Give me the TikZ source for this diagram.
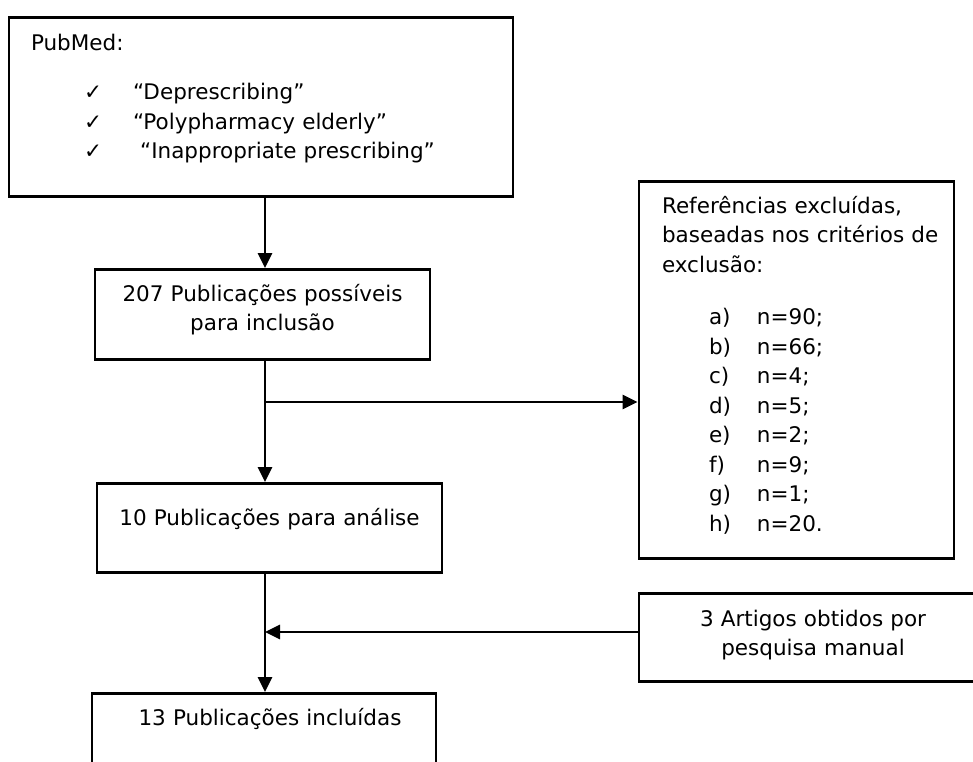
\documentclass[tikz,border=0pt]{standalone}
\usepackage{fontspec}
\setmainfont{DejaVu Sans}
\usetikzlibrary{arrows.meta,positioning,calc}

\tikzset{
  box/.style={draw, line width=2.8pt, inner xsep=0pt, inner ysep=0pt, anchor=north,
    font=\fontsize{21.5}{29.5}\selectfont},
  flow/.style={line width=2.8pt, -{Triangle[length=15pt,width=14pt]}}
}
\newcommand{\chk}{\makebox[102pt][l]{\hspace{53pt}✓}}
\newcommand{\crit}[2]{\makebox[110pt][l]{\hspace{62pt}#1)}n=#2}

\begin{document}
\begin{tikzpicture}[x=1pt,y=-1pt]
    \useasboundingbox (0,0) rectangle (973,761);

    % Search
    \node[box, align=left, text width=460pt, inner xsep=22pt, text height=33pt, text depth=146pt] (pubmed) at (261,16)
        {PubMed:\\[20pt]
         \chk“Deprescribing”\\
         \chk“Polypharmacy elderly”\\
         \chk\ “Inappropriate prescribing”};

    % Main flow
    \node[box, align=center, text width=335pt, text height=32pt, text depth=58pt] (pub207) at (262.5,268)
        {207 Publicações possíveis\\para inclusão};
    \node[box, align=center, text width=345pt, text height=42pt, text depth=47pt] (pub10) at (269.5,482)
        {10 Publicações para análise};
    \node[box, align=center, text width=344pt, text height=32pt, text depth=100pt] (incl) at (264,692)
        {\hspace*{12pt}13 Publicações incluídas};

    % Side boxes
    \node[box, align=left, text width=299pt, inner xsep=8pt, text height=32pt, text depth=345pt] (excl) at (796.5,180)
        {\hspace*{15pt}\mbox{Referências excluídas,}\\
         \hspace*{15pt}\mbox{baseadas nos critérios de}\\
         \hspace*{15pt}\mbox{exclusão:}\\[23pt]
         \crit{a}{90;}\\
         \crit{b}{66;}\\
         \crit{c}{4;}\\
         \crit{d}{5;}\\
         \crit{e}{2;}\\
         \crit{f}{9;}\\
         \crit{g}{1;}\\
         \crit{h}{20.}};
    \node[box, align=center, text width=348pt, text height=33pt, text depth=55pt] (manual) at (813,592)
        {3 Artigos obtidos por\\pesquisa manual};

    % Arrows
    \coordinate (split) at (265,402);
    \coordinate (join) at (265,632);
    \draw[flow] (pubmed.south -| split) -- (pub207.north -| split);
    \draw[flow] (pub207.south -| split) -- (pub10.north -| split);
    \draw[flow] (split) -- (split -| excl.west);
    \draw[flow] (pub10.south -| join) -- (incl.north -| join);
    \draw[flow] (manual.west |- join) -- (join);
\end{tikzpicture}
\end{document}
